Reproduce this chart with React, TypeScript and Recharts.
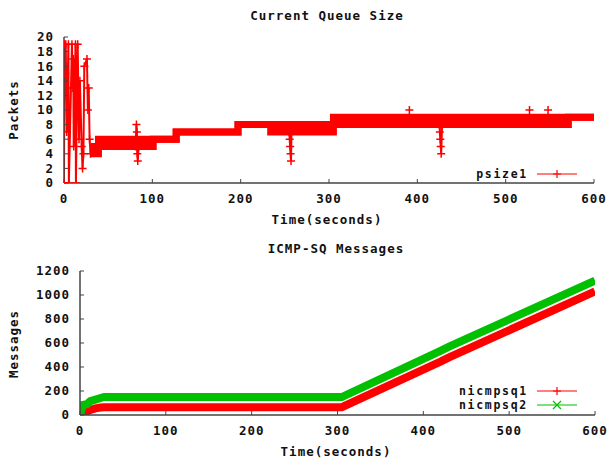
import { ComposedChart, Area, Line, XAxis, YAxis } from "recharts";

const RED = "#ff0000";
const GREEN = "#00c000";
const AXIS = "#444444";
const FONT = "'DejaVu Sans Mono', monospace";

const TIME_TICKS = [0, 100, 200, 300, 400, 500, 600];
const PACKET_TICKS = [0, 2, 4, 6, 8, 10, 12, 14, 16, 18, 20];
const MESSAGE_TICKS = [0, 200, 400, 600, 800, 1000, 1200];

// psize1 — start-up burst while the queue fills and drains
const burstTime = [0, 0.5, 1.5, 2, 3, 5, 5.5, 9, 10, 10.5, 11, 13, 13.5, 15.5, 17, 18, 20, 21, 22, 23, 26, 27, 28, 29, 30];
const burstSize = [0, 19, 15, 19, 7, 19, 0, 19, 13, 17, 5, 19, 0, 19, 6, 14, 5, 2, 4, 16, 17, 10, 13, 6, 4];

// psize1 — steady state, queue flipping between two sizes (low/high per step)
const bandTime = [30, 39, 101, 127, 197, 234, 305, 571, 600];
const bandLow = [4, 5, 6, 7, 8, 7, 8, 9, 9];
const bandHigh = [5, 6, 6, 7, 8, 8, 9, 9, 9];

// short drains
const dip1Time = [81, 82, 82.5, 83, 83.5, 84.5];
const dip1Size = [5, 8, 7, 4, 3, 5];
const dip2Time = [255, 255.5, 256, 256.5, 257, 257.5];
const dip2Size = [7, 6, 5, 4, 3, 7];
const dip3Time = [425, 425.5, 426, 426.5, 427, 428];
const dip3Size = [8, 7, 6, 5, 4, 8];

// single samples above the band
const peakTime = [391, 527, 548];
const peakSize = [10, 10, 10];

// ICMP-SQ message counters
const msgTime = [0, 2, 4, 8, 12, 18, 24, 28, 305, 420, 430, 600];
const msgSq1 = [0, 10, 20, 30, 42, 55, 62, 65, 65, 445, 480, 1030];
const msgSq2 = [0, 50, 85, 90, 115, 128, 142, 150, 150, 535, 570, 1120];

const zip = (t: number[], v: number[]) => t.map((x, i) => ({ t: x, v: v[i] }));

const bandRows = bandTime.map((t, i) => ({ t, lo: bandLow[i], hi: bandHigh[i] }));
const msgRows = msgTime.map((t, i) => ({ t, sq1: msgSq1[i], sq2: msgSq2[i] }));

const tickFont = {
  fontFamily: FONT,
  fontSize: 12.5,
  fontWeight: 700,
  fill: "#111",
  letterSpacing: 1,
};

function PlusDot(props: any) {
  const { cx, cy, index } = props;
  if (cx == null || cy == null) return null;
  return (
    <path
      key={`p-${index}`}
      d={`M${cx - 4},${cy}h8M${cx},${cy - 4}v8`}
      stroke={RED}
      strokeWidth={1.5}
      fill="none"
    />
  );
}

// gnuplot-style box: labels outside, ticks pointing in on all four sides
function frameAxes(yDomain: number[], yTicks: number[], yWidth: number) {
  return [
    <XAxis
      key="x"
      xAxisId="x"
      dataKey="t"
      type="number"
      domain={[0, 600]}
      ticks={TIME_TICKS}
      interval={0}
      allowDataOverflow
      height={30}
      tickSize={-4}
      tickMargin={15}
      tick={tickFont}
      tickLine={{ stroke: AXIS }}
      axisLine={{ stroke: AXIS, strokeWidth: 1.5 }}
    />,
    <XAxis
      key="xt"
      xAxisId="top"
      orientation="top"
      dataKey="t"
      type="number"
      domain={[0, 600]}
      ticks={TIME_TICKS}
      interval={0}
      allowDataOverflow
      height={0}
      tickSize={-4}
      tick={false}
      tickLine={{ stroke: AXIS }}
      axisLine={{ stroke: AXIS, strokeWidth: 1.5 }}
    />,
    <YAxis
      key="y"
      yAxisId="y"
      type="number"
      domain={yDomain}
      ticks={yTicks}
      interval={0}
      allowDataOverflow
      width={yWidth}
      tickSize={-4}
      tickMargin={14}
      tick={tickFont}
      tickLine={{ stroke: AXIS }}
      axisLine={{ stroke: AXIS, strokeWidth: 1.5 }}
    />,
    <YAxis
      key="yr"
      yAxisId="right"
      orientation="right"
      type="number"
      domain={yDomain}
      ticks={yTicks}
      interval={0}
      allowDataOverflow
      width={0}
      tickSize={-4}
      tick={false}
      tickLine={{ stroke: AXIS }}
      axisLine={{ stroke: AXIS, strokeWidth: 1.5 }}
    />,
  ];
}

function QueueChart() {
  const spike = (rows: { t: number; v: number }[], key: string) => (
    <Line
      key={key}
      xAxisId="x"
      yAxisId="y"
      data={rows}
      dataKey="v"
      type="linear"
      stroke={RED}
      strokeWidth={2}
      dot={PlusDot}
      activeDot={false}
      isAnimationActive={false}
    />
  );
  return (
    <ComposedChart width={610} height={230} margin={{ top: 37, right: 16, bottom: 17, left: 0 }}>
      {frameAxes([0, 20], PACKET_TICKS, 64)}
      <Area
        xAxisId="x"
        yAxisId="y"
        data={bandRows}
        dataKey={(d: any) => [d.lo, d.hi]}
        type="stepAfter"
        stroke={RED}
        strokeWidth={7}
        fill={RED}
        fillOpacity={1}
        activeDot={false}
        isAnimationActive={false}
      />
      {spike(zip(burstTime, burstSize), "burst")}
      {spike(zip(dip1Time, dip1Size), "dip1")}
      {spike(zip(dip2Time, dip2Size), "dip2")}
      {spike(zip(dip3Time, dip3Size), "dip3")}
      <Line
        xAxisId="x"
        yAxisId="y"
        data={zip(peakTime, peakSize)}
        dataKey="v"
        stroke="none"
        dot={PlusDot}
        activeDot={false}
        isAnimationActive={false}
      />
    </ComposedChart>
  );
}

function MessageChart() {
  return (
    <ComposedChart width={610} height={233} data={msgRows} margin={{ top: 41, right: 15, bottom: 18, left: 0 }}>
      {frameAxes([0, 1200], MESSAGE_TICKS, 80)}
      <Line
        xAxisId="x"
        yAxisId="y"
        dataKey="sq1"
        type="linear"
        stroke={RED}
        strokeWidth={8}
        dot={false}
        activeDot={false}
        isAnimationActive={false}
      />
      <Line
        xAxisId="x"
        yAxisId="y"
        dataKey="sq2"
        type="linear"
        stroke={GREEN}
        strokeWidth={8}
        dot={false}
        activeDot={false}
        isAnimationActive={false}
      />
    </ComposedChart>
  );
}

const textStyle = {
  fontFamily: FONT,
  fontSize: 12.5,
  fontWeight: 700,
  fill: "#111",
  letterSpacing: 1,
};

const legendStyle = { ...textStyle, fontSize: 11.5, letterSpacing: 1.7 };

export default function App() {
  return (
    <div style={{ position: "relative", width: 610, height: 463, background: "#fff" }}>
      <style>{"body{margin:0}"}</style>
      <div style={{ position: "absolute", left: 0, top: 0 }}>
        <QueueChart />
      </div>
      <div style={{ position: "absolute", left: 0, top: 230 }}>
        <MessageChart />
      </div>
      <svg
        width={610}
        height={463}
        style={{ position: "absolute", left: 0, top: 0, pointerEvents: "none" }}
      >
        <g style={textStyle as any}>
          <text x={327} y={20} textAnchor="middle">Current Queue Size</text>
          <text x={327} y={224} textAnchor="middle">Time(seconds)</text>
          <text transform="translate(18,110) rotate(-90)" textAnchor="middle">Packets</text>

          <text x={336} y={253} textAnchor="middle">ICMP-SQ Messages</text>
          <text x={336} y={456} textAnchor="middle">Time(seconds)</text>
          <text transform="translate(18,344) rotate(-90)" textAnchor="middle">Messages</text>
        </g>
        <g style={legendStyle as any}>
          <text x={528} y={178} textAnchor="end">psize1</text>
          <text x={528} y={395} textAnchor="end">nicmpsq1</text>
          <text x={528} y={409} textAnchor="end">nicmpsq2</text>
        </g>
        <line x1={537} x2={577} y1={174} y2={174} stroke={RED} strokeWidth={1.2} />
        <path d="M553,174h8M557,170v8" stroke={RED} strokeWidth={1.2} />
        <line x1={537} x2={577} y1={391} y2={391} stroke={RED} strokeWidth={1.2} />
        <path d="M553,391h8M557,387v8" stroke={RED} strokeWidth={1.2} />
        <line x1={537} x2={577} y1={405} y2={405} stroke={GREEN} strokeWidth={1.2} />
        <path d="M553,401l8,8M553,409l8,-8" stroke={GREEN} strokeWidth={1.2} />
      </svg>
    </div>
  );
}
